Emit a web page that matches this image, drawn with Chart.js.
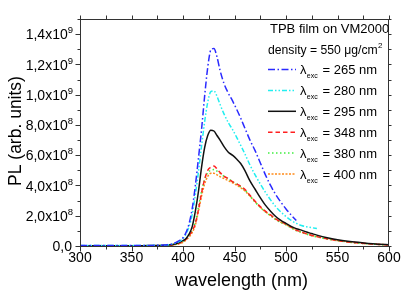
<!DOCTYPE html>
<html><head><meta charset="utf-8">
<script src="https://cdn.jsdelivr.net/npm/chart.js@4/dist/chart.umd.min.js"></script>
<style>html,body{margin:0;padding:0;background:#fff;overflow:hidden}canvas{display:block}</style>
</head><body>
<canvas id="c" width="409" height="296"></canvas>
<script>
const FONT = '"Liberation Sans", Arial, sans-serif';

const wavelengths = [300,310,320,330,340,350,360,370,380,385,390,395,400,403,406,409,412,415,418,421,424,427,430,433,436,440,444,448,452,456,460,465,470,475,480,485,490,495,500,505,510,515,520,525,530,540,550,560,570,580,590,600];

// PL in units of 1e8 (arb. units)
const pl265 = [0.03,0.03,0.03,0.03,0.03,0.03,0.03,0.04,0.06,0.09,0.15,0.3,0.55,0.9,1.5,2.5,4.0,5.8,7.7,9.9,11.8,12.95,13.05,12.5,11.6,10.7,10.1,9.6,9.05,8.45,7.8,7.0,6.3,5.5,4.7,4.0,3.4,2.9,2.45,2.05,1.68,null,null,null,null,null,null,null,null,null,null,null];
const pl280 = [0.04,0.03,0.03,0.03,0.03,0.03,0.03,0.04,0.05,0.08,0.13,0.25,0.48,0.8,1.3,2.1,3.4,4.9,6.6,8.2,9.5,10.2,10.25,9.9,9.35,8.7,8.15,7.7,7.2,6.65,6.1,5.35,4.7,4.1,3.55,3.05,2.6,2.25,1.95,1.7,1.5,1.35,1.27,1.21,1.16,null,null,null,null,null,null,null];
const pl295 = [0.02,0.02,0.02,0.02,0.02,0.02,0.02,0.03,0.04,0.06,0.1,0.2,0.35,0.5,0.8,1.3,2.3,3.6,5.2,6.5,7.3,7.65,7.6,7.3,7.0,6.55,6.2,6.0,5.75,5.45,5.0,4.3,3.75,3.2,2.7,2.3,1.95,1.7,1.5,1.3,1.15,1.05,0.92,0.82,0.72,0.55,0.42,0.32,0.24,0.17,0.12,0.08];
const pl348 = [0.01,0.01,0.01,0.01,0.01,0.01,0.01,0.02,0.03,0.05,0.08,0.15,0.3,0.45,0.7,1.0,1.5,2.4,3.5,4.4,5.0,5.2,5.28,5.1,4.85,4.6,4.45,4.25,4.1,3.95,3.75,3.35,2.95,2.6,2.3,2.05,1.8,1.6,1.45,1.25,1.05,0.92,0.8,0.7,0.62,0.47,0.36,0.27,0.2,0.15,0.1,0.07];
const pl380 = [0.01,0.01,0.01,0.01,0.01,0.01,0.01,0.02,0.03,0.05,0.08,0.15,0.3,0.45,0.7,1.05,1.6,2.6,3.6,4.4,4.85,5.0,5.05,4.95,4.8,4.6,4.45,4.25,4.1,3.9,3.7,3.3,2.9,2.55,2.25,2.0,1.75,1.55,1.4,1.2,1.02,0.9,0.78,0.68,0.6,0.46,0.35,0.26,0.19,0.14,0.1,0.07];
const pl400 = [0.01,0.01,0.01,0.01,0.01,0.01,0.01,0.02,0.03,0.04,0.07,0.13,0.25,0.4,0.6,0.9,1.4,2.3,3.3,4.1,4.6,4.8,4.8,4.7,4.58,4.45,4.32,4.18,4.03,3.85,3.65,3.3,2.92,2.57,2.27,2.02,1.77,1.57,1.42,1.22,1.04,0.91,0.8,0.7,0.62,0.47,0.36,0.27,0.2,0.15,0.11,0.08];

const excitationLabels = ['265','280','295','348','380','400'];
const headerLines = ['TPB film on VM2000', 'density = 550 \u03BCg/cm'];
const xTickValues = [300,350,400,450,500,550,600];
const yTickValues = [0,2,4,6,8,10,12,14];
const yTickMantissa = ['0,0','2,0','4,0','6,0','8,0','1,0','1,2','1,4'];
const yTickExponent = ['','8','8','8','8','9','9','9'];
const xTitle = 'wavelength (nm)';
const yTitle = 'PL (arb. units)';

const seriesData = [pl265, pl280, pl295, pl348, pl380, pl400];
const styles = [
  {c:'#2a2aff', d:[7,2.5,1.5,2.5]},
  {c:'#22eef0', d:[5,2,1.5,2,1.5,2]},
  {c:'#111111', d:[]},
  {c:'#ff2020', d:[4.5,3]},
  {c:'#40ee40', d:[1.5,2.5]},
  {c:'#ff8a1a', d:[2,1.5]}
];

const datasets = seriesData.map((arr, k) => ({
  label: excitationLabels[k],
  data: wavelengths.map((w, i) => ({x: w, y: arr[i]})),
  borderColor: styles[k].c,
  borderDash: styles[k].d,
  borderWidth: 1.5,
  pointRadius: 0,
  fill: false,
  spanGaps: false,
  cubicInterpolationMode: 'monotone'
}));

const decor = {
  id: 'decor',
  afterDraw(chart) {
    const ctx = chart.ctx, a = chart.chartArea, xs = chart.scales.x, ys = chart.scales.y;
    ctx.save();
    ctx.strokeStyle = '#333'; ctx.lineWidth = 1; ctx.setLineDash([]);
    const L = Math.round(a.left) + 0.5, R = Math.round(a.right) - 0.5, T = Math.round(a.top) + 0.5, B = Math.round(a.bottom) + 0.5;
    ctx.strokeRect(L, T, R - L, B - T);
    ctx.beginPath();
    for (let v = ys.min; v <= ys.max; v += 1) {
      const y = Math.round(ys.getPixelForValue(v)) + 0.5;
      const len = v % 2 === 0 ? 5 : 3;
      ctx.moveTo(L, y); ctx.lineTo(L - len, y);
      ctx.moveTo(R, y); ctx.lineTo(R + 3, y);
    }
    for (let w = xs.min; w <= xs.max; w += 25) {
      const x = Math.round(xs.getPixelForValue(w)) + 0.5;
      const len = w % 50 === 0 ? 5 : 3;
      ctx.moveTo(x, B); ctx.lineTo(x, B + len);
      ctx.moveTo(x, T); ctx.lineTo(x, T - 4);
    }
    ctx.stroke();

    // y tick labels with superscript exponents
    ctx.fillStyle = '#000'; ctx.textBaseline = 'alphabetic';
    yTickValues.forEach((v, i) => {
      const base = ys.getPixelForValue(v) + 5.2;
      const m = yTickMantissa[i], e = yTickExponent[i];
      const right = a.left - 7;
      if (e) {
        const txt = m + 'x10';
        ctx.font = '9.5px ' + FONT; const ew = ctx.measureText(e).width;
        ctx.font = '14px ' + FONT; const mw = ctx.measureText(txt).width;
        ctx.textAlign = 'left';
        ctx.fillText(txt, right - ew - mw, base);
        ctx.font = '9.5px ' + FONT;
        ctx.fillText(e, right - ew, base - 6);
      } else {
        ctx.font = '14px ' + FONT; ctx.textAlign = 'right';
        ctx.fillText(m, right - 1, base);
      }
    });

    // axis titles
    ctx.font = '18px ' + FONT; ctx.textAlign = 'center';
    ctx.fillText(xTitle, 241.5, 286);
    ctx.save();
    ctx.translate(20.5, 131); ctx.rotate(-Math.PI / 2);
    ctx.font = '17.5px ' + FONT;
    ctx.fillText(yTitle, 0, 0);
    ctx.restore();

    // legend block
    ctx.textAlign = 'left';
    ctx.font = '13px ' + FONT;
    ctx.fillText(headerLines[0], 270, 32.6);
    ctx.font = '12.2px ' + FONT;
    ctx.fillText(headerLines[1], 268, 53.6);
    const dw = ctx.measureText(headerLines[1]).width;
    ctx.font = '8px ' + FONT;
    ctx.fillText('2', 268 + dw + 0.3, 48.3);

    chart.data.datasets.forEach((ds, i) => {
      const yc = 69.5 + i * 20.9;
      ctx.save();
      ctx.strokeStyle = ds.borderColor; ctx.lineWidth = 1.5; ctx.setLineDash(ds.borderDash || []);
      ctx.beginPath(); ctx.moveTo(268, yc); ctx.lineTo(296, yc); ctx.stroke();
      ctx.restore();
      ctx.font = '13px ' + FONT;
      ctx.fillText('\u03BB', 300, yc + 4.6);
      const lw = ctx.measureText('\u03BB').width;
      ctx.font = '7px ' + FONT;
      ctx.fillText('exc', 300 + lw + 0.3, yc + 8.6);
      ctx.font = '13px ' + FONT;
      ctx.fillText('= ' + ds.label + ' nm', 322.5, yc + 4.6);
    });
    ctx.restore();
  }
};

new Chart(document.getElementById('c'), {
  type: 'line',
  data: { datasets },
  options: {
    responsive: false, animation: false, devicePixelRatio: 1,
    layout: { padding: { left: 0, right: 20, top: 19, bottom: 0 } },
    plugins: { legend: { display: false }, tooltip: { enabled: false } },
    scales: {
      x: {
        type: 'linear', min: 300, max: 600,
        grid: { display: false, drawTicks: false }, border: { display: false },
        afterBuildTicks: s => { s.ticks = xTickValues.map(v => ({ value: v })); },
        ticks: { color: '#000', padding: 4, font: { family: FONT, size: 14 }, maxRotation: 0, autoSkip: false, callback: v => String(v) },
        afterFit: s => { s.height = 50; }
      },
      y: {
        type: 'linear', min: 0, max: 15,
        grid: { display: false, drawTicks: false }, border: { display: false },
        ticks: { display: false },
        afterFit: s => { s.width = 80; }
      }
    }
  },
  plugins: [decor]
});
</script>
</body></html>
